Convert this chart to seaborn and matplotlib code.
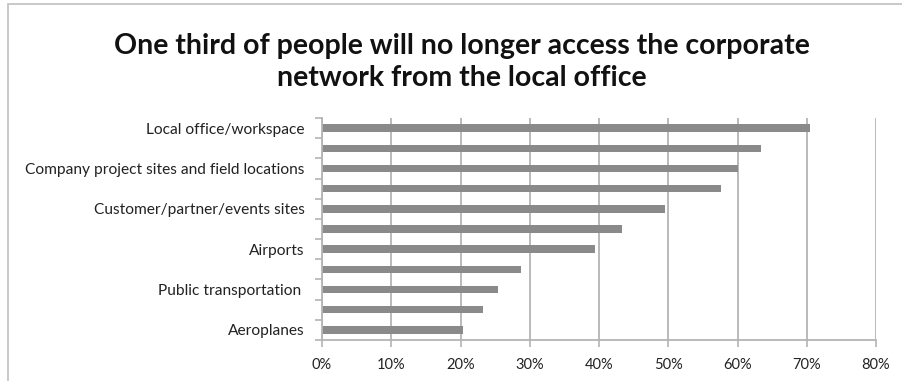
import matplotlib
matplotlib.use("Agg")
import matplotlib.pyplot as plt
import matplotlib.ticker as mticker
from matplotlib.patches import Rectangle
import seaborn as sns

# Share of respondents by access location (fractions), top to bottom
shares = [0.705, 0.634, 0.600, 0.576, 0.495, 0.433, 0.394, 0.288, 0.254, 0.232, 0.203]
# Only every other row carries a label
tick_labels = [
    "Local office/workspace", "",
    "Company project sites and field locations", "",
    "Customer/partner/events sites", "",
    "Airports", "",
    "Public transportation ", "",
    "Aeroplanes",
]
x_ticks = [0.0, 0.1, 0.2, 0.3, 0.4, 0.5, 0.6, 0.7, 0.8]

sns.set_theme(style="white")
plt.rcParams["font.family"] = ["Lato", "DejaVu Sans"]

fig = plt.figure(figsize=(9.02, 3.81), dpi=100)
ax = fig.add_axes([322 / 902, 1 - 340 / 381, (876 - 322) / 902, (340 - 118) / 381])

rows = list(range(len(shares)))
sns.barplot(x=shares, y=rows, orient="h", color="#8a8a8a", saturation=1,
            width=0.37, ax=ax, linewidth=0)

grid_c = "#b4b4b4"
ax.set_xlim(0, 0.8)
ax.set_ylim(len(shares) - 0.5, -0.5)
ax.set_xticks(x_ticks)
ax.xaxis.set_major_formatter(mticker.PercentFormatter(1.0, decimals=0))
ax.grid(axis="x", color=grid_c, linewidth=1.3)
ax.set_axisbelow(True)

ax.set_yticks(rows)
ax.set_yticklabels(tick_labels)
ax.yaxis.set_minor_locator(mticker.FixedLocator([r + 0.5 for r in range(-1, len(shares))]))
ax.tick_params(axis="y", which="major", length=0, pad=12.5, labelsize=11.2, labelcolor="#222222")
ax.tick_params(axis="y", which="minor", length=5, width=1.2, color=grid_c, direction="out", left=True)
ax.tick_params(axis="x", which="major", length=5, width=1.2, color=grid_c, direction="out",
               bottom=True, pad=8, labelsize=10.5, labelcolor="#222222")
ax.set_xlabel("")
ax.set_ylabel("")

for side in ("top", "right"):
    ax.spines[side].set_visible(False)
for side in ("left", "bottom"):
    ax.spines[side].set_color(grid_c)
    ax.spines[side].set_linewidth(1.3)

fig.text(462 / 902, 1 - 62 / 381,
         "One third of people will no longer access the corporate\nnetwork from the local office",
         ha="center", va="center", fontsize=20.5, fontweight="bold", color="#111111",
         linespacing=1.3)

# outer chart frame
fig.patches.append(Rectangle((8 / 902, -0.05), 1.2, 1 - 4 / 381 + 0.05,
                             transform=fig.transFigure, fill=False,
                             edgecolor="#c0c0c0", linewidth=1.2))

fig.savefig("out.png", dpi=100)
